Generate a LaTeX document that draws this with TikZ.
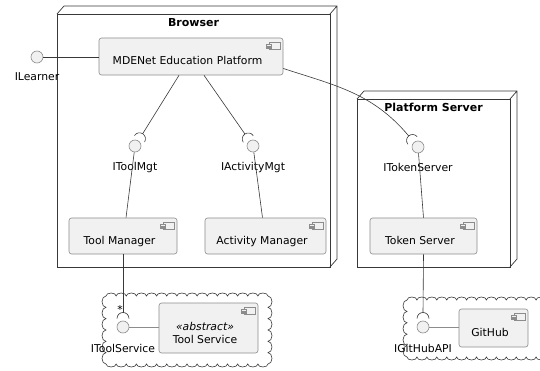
\documentclass[tikz,border=0pt]{standalone}
\usepackage{fontspec}
\setmainfont{DejaVu Sans}
\usetikzlibrary{calc,positioning}

\definecolor{compfill}{HTML}{F1F1F1}
\definecolor{compline}{HTML}{8C8C8C}
\definecolor{wirecol}{HTML}{383838}

% small component glyph in the upper right corner of a box
\newcommand\compicon[1]{%
  \draw[compline,fill=compfill,line width=.5pt] ($(#1.north east)+(-14.5,5)$) rectangle ++(11,7);
  \draw[compline,fill=compfill,line width=.5pt] ($(#1.north east)+(-17,6.6)$) rectangle ++(5,1.6);
  \draw[compline,fill=compfill,line width=.5pt] ($(#1.north east)+(-17,9.3)$) rectangle ++(5,1.6);
}
% socket half circle in front of a lollipop, open towards angle #2
\newcommand\socket[2]{%
  \draw[wire] ($(#1)+(#2:8.5pt)+(#2-90:6pt)$) arc[start angle=#2-90,end angle=#2+90,radius=6pt];
  \coordinate (#1-sk) at ($(#1)+(#2:14.5pt)$);
}
% scalloped cloud: corners #1,#2 and #3,#4, #5 arcs across, #6 arcs down
\newcommand\cloudbox[6]{%
  \pgfmathsetmacro\rx{(#3-#1)/(2*#5)}
  \pgfmathsetmacro\ry{(#4-#2)/(2*#6)}
  \draw[cloudline] (#1,#2)
    \foreach \i in {1,...,#5} {arc[start angle=180,end angle=0,x radius=\rx pt,y radius=3pt]}
    \foreach \i in {1,...,#6} {arc[start angle=90,end angle=-90,x radius=4pt,y radius=\ry pt]}
    \foreach \i in {1,...,#5} {arc[start angle=0,end angle=-180,x radius=\rx pt,y radius=3pt]}
    \foreach \i in {1,...,#6} {arc[start angle=-90,end angle=-270,x radius=4pt,y radius=\ry pt]};
}

\begin{document}
\begin{tikzpicture}[x=1pt,y=-1pt,font=\fontsize{10.8}{13}\selectfont,
  comp/.style={draw=compline,fill=compfill,rounded corners=2.5pt,line width=.6pt,
    minimum height=37pt,text height=20pt,text depth=3pt,inner sep=2pt,
    execute at end node={\hspace{7pt}}},
  lolli/.style={circle,draw=compline,fill=compfill,line width=.6pt,minimum size=12pt,inner sep=0pt},
  lbl/.style={inner sep=1pt},
  wire/.style={draw=wirecol,line width=.6pt},
  stub/.style={draw=compline,line width=1pt},
  box3d/.style={draw=wirecol,line width=.7pt},
  title/.style={font=\fontsize{11}{13}\selectfont\bfseries,inner sep=2pt,anchor=north},
  cloudline/.style={draw=wirecol,line width=.6pt}]

\useasboundingbox (0,0) rectangle (540,371);

% nodes (3d boxes)
\draw[box3d] (57,14) rectangle (330,267);
\draw[box3d] (57,14) -- ++(7,-8) -- ++(273,0) -- ++(0,253) -- ++(-7,8) (330,14) -- ++(7,-8);
\node[title] (browser) at (193.5,16) {Browser};

\draw[box3d] (357,99) rectangle (510,267);
\draw[box3d] (357,99) -- ++(7,-8) -- ++(153,0) -- ++(0,168) -- ++(-7,8) (510,99) -- ++(7,-8);
\node[title] (pserver) at (433.5,101) {Platform Server};

% clouds
\cloudbox{106}{296}{268}{364}{16}{6}
\cloudbox{407}{300}{546}{357}{14}{5}

% components
\node[comp,minimum width=184pt] (mdenet) at (191,56.5) {MDENet Education Platform};
\node[comp,minimum width=108pt,minimum height=36pt] (toolmgr) at (123,236) {Tool Manager};
\node[comp,minimum width=121pt,minimum height=36pt] (actmgr) at (265.5,236) {Activity Manager};
\node[comp,minimum width=107pt,minimum height=36pt] (tokensrv) at (423.5,236) {Token Server};
\node[comp,minimum width=69pt,minimum height=38pt] (github) at (493.5,328) {GitHub};
\node[comp,minimum width=99pt,minimum height=50pt,align=center,text height=33pt,
  execute at end node={}] (toolsvc) at (208.5,328) {{\itshape «abstract»}\\Tool Service};
\foreach \c in {mdenet,toolmgr,actmgr,tokensrv,toolsvc,github} {\compicon{\c}}

% interfaces
\node[lolli] (ilearner) at (37,57) {};
\node[lolli] (itoolmgt) at (135,146) {};
\node[lolli] (iactmgt) at (253,146) {};
\node[lolli] (itoken) at (418,147) {};
\node[lolli] (itoolsvc) at (123,327) {};
\node[lolli] (igithub) at (423,327) {};
\node[lbl,below=8.5pt of ilearner] (ilearnerlbl) {ILearner};
\node[lbl,below=8.5pt of itoolmgt] (itoolmgtlbl) {IToolMgt};
\node[lbl,below=8.5pt of iactmgt] (iactmgtlbl) {IActivityMgt};
\node[lbl,below=8.5pt of itoken] (itokenlbl) {ITokenServer};
\node[lbl,below=10pt of itoolsvc] (itoolsvclbl) {IToolService};
\node[lbl,below=10pt of igithub] (igithublbl) {IGitHubAPI};

% provided
\draw[wire] (ilearner) -- (mdenet.west |- ilearner);
\draw[stub] (itoolsvc) -- (toolsvc.west |- itoolsvc);
\draw[stub] (igithub) -- (github.west |- igithub);
\draw[wire] (itoolmgt) -- ([xshift=3pt]toolmgr.north);
\draw[wire] (iactmgt) -- ([xshift=-3pt]actmgr.north);
\draw[wire] (itoken) -- (tokensrv.north);

% required
\socket{itoolmgt}{58}
\socket{iactmgt}{124}
\socket{itoken}{130}
\socket{itoolsvc}{90}
\socket{igithub}{90}
\draw[wire] ([xshift=-12pt]mdenet.south) -- (itoolmgt-sk);
\draw[wire] ([xshift=13pt]mdenet.south) -- (iactmgt-sk);
\draw[wire] ([yshift=-12pt]mdenet.east) to[out=-18,in=130] (itoken-sk);
\draw[wire] (toolmgr.south) -- (itoolsvc-sk);
\draw[wire] (tokensrv.south) -- (igithub-sk);
\node[lbl] (many) at (120,309) {*};
\end{tikzpicture}
\end{document}
